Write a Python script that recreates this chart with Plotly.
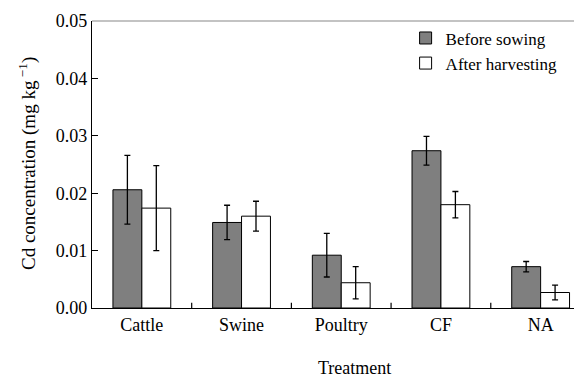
import plotly.graph_objects as go

categories = ["Cattle", "Swine", "Poultry", "CF", "NA"]
before_sowing = [0.0206, 0.0149, 0.0092, 0.0274, 0.0072]
before_err = [0.0060, 0.0030, 0.0038, 0.0025, 0.0009]
after_harvesting = [0.0174, 0.0160, 0.0044, 0.0180, 0.0027]
after_err = [0.0074, 0.0026, 0.0028, 0.0023, 0.0013]

font_family = "Liberation Serif, Times New Roman, serif"

fig = go.Figure()
fig.add_trace(go.Bar(
    x=categories, y=before_sowing, name="Before sowing",
    marker=dict(color="#7f7f7f", line=dict(color="black", width=1)),
    error_y=dict(type="data", array=before_err, color="black", thickness=1.3, width=3),
))
fig.add_trace(go.Bar(
    x=categories, y=after_harvesting, name="After harvesting",
    marker=dict(color="white", line=dict(color="black", width=1)),
    error_y=dict(type="data", array=after_err, color="black", thickness=1.3, width=3),
))

# page has an 8px body margin, so the figure is drawn 8px in from the top-left
fig.update_layout(
    width=574, height=370,
    margin=dict(l=84, r=0, t=13, b=70),
    paper_bgcolor="white", plot_bgcolor="white",
    font=dict(family=font_family, size=18, color="black"),
    barmode="group", bargap=0.42, bargroupgap=0,
    showlegend=True,
    legend=dict(x=0.64, y=1.002, xanchor="left", yanchor="top",
                bgcolor="rgba(0,0,0,0)", font=dict(size=17),
                itemwidth=30, tracegroupgap=0),
    xaxis=dict(
        range=[-0.5, 4.415], showline=True, linecolor="black", linewidth=1.2,
        ticks="", showgrid=False, tickfont=dict(size=18), mirror=False,
        automargin=False,
    ),
    yaxis=dict(
        range=[0, 0.05], dtick=0.01, tickformat=".2f",
        showline=True, linecolor="black", linewidth=1.2,
        ticks="inside", ticklen=6, tickcolor="black", showgrid=False,
        tickfont=dict(size=18), zeroline=False, automargin=False,
    ),
)

# top border line
fig.add_shape(type="line", xref="paper", yref="paper", x0=0, x1=1, y0=1, y1=1,
              line=dict(color="#888888", width=1.2))
# category separator ticks (inside)
for i in range(1, 5):
    fig.add_shape(type="line", xref="x", yref="paper", x0=i - 0.5, x1=i - 0.5,
                  y0=0, y1=0.018, line=dict(color="black", width=1.2))

fig.add_annotation(text="Cd concentration (mg kg<sup> −1</sup>)", xref="paper", yref="paper",
                   x=-0.1327, y=0.505, showarrow=False, textangle=-90,
                   xanchor="center", yanchor="middle", font=dict(size=19))

fig.add_annotation(text="Treatment", xref="paper", yref="paper",
                   x=(354 - 92) / 490, y=-0.209, showarrow=False,
                   xanchor="center", yanchor="middle", font=dict(size=18))

fig.write_html("out.html")
